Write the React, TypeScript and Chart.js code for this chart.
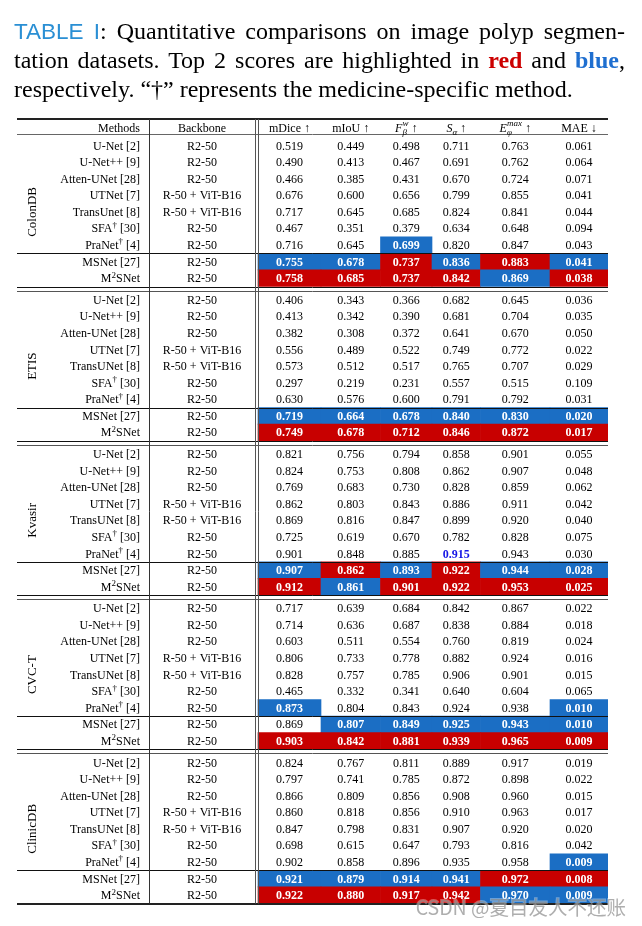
import React, { useEffect, useRef } from "react";
import { Chart, registerables } from "chart.js";

Chart.register(...registerables);

// ---------------- data ----------------
const datasetNames = ["ColonDB", "ETIS", "Kvasir", "CVC-T", "ClinicDB"];

const methods = [
  "U-Net [2]",
  "U-Net++ [9]",
  "Atten-UNet [28]",
  "UTNet [7]",
  "TransUNet [8]",
  "SFA^† [30]",
  "PraNet^† [4]",
  "MSNet [27]",
  "M^2SNet",
];
// ColonDB block spells TransUnet differently in the source table
const colonDbMethods = [
  "U-Net [2]",
  "U-Net++ [9]",
  "Atten-UNet [28]",
  "UTNet [7]",
  "TransUnet [8]",
  "SFA^† [30]",
  "PraNet^† [4]",
  "MSNet [27]",
  "M^2SNet",
];

const backbones = [
  "R2-50",
  "R2-50",
  "R2-50",
  "R-50 + ViT-B16",
  "R-50 + ViT-B16",
  "R2-50",
  "R2-50",
  "R2-50",
  "R2-50",
];

const metricLabels = [
  { base: "mDice", italic: false, sub: "", sup: "", arrow: "↑" },
  { base: "mIoU", italic: false, sub: "", sup: "", arrow: "↑" },
  { base: "F", italic: true, sub: "β", sup: "w", arrow: "↑" },
  { base: "S", italic: true, sub: "α", sup: "", arrow: "↑" },
  { base: "E", italic: true, sub: "φ", sup: "max", arrow: "↑" },
  { base: "MAE", italic: false, sub: "", sup: "", arrow: "↓" },
];

const colonDbValues = [
  [0.519, 0.449, 0.498, 0.711, 0.763, 0.061],
  [0.49, 0.413, 0.467, 0.691, 0.762, 0.064],
  [0.466, 0.385, 0.431, 0.67, 0.724, 0.071],
  [0.676, 0.6, 0.656, 0.799, 0.855, 0.041],
  [0.717, 0.645, 0.685, 0.824, 0.841, 0.044],
  [0.467, 0.351, 0.379, 0.634, 0.648, 0.094],
  [0.716, 0.645, 0.699, 0.82, 0.847, 0.043],
  [0.755, 0.678, 0.737, 0.836, 0.883, 0.041],
  [0.758, 0.685, 0.737, 0.842, 0.869, 0.038],
];
const etisValues = [
  [0.406, 0.343, 0.366, 0.682, 0.645, 0.036],
  [0.413, 0.342, 0.39, 0.681, 0.704, 0.035],
  [0.382, 0.308, 0.372, 0.641, 0.67, 0.05],
  [0.556, 0.489, 0.522, 0.749, 0.772, 0.022],
  [0.573, 0.512, 0.517, 0.765, 0.707, 0.029],
  [0.297, 0.219, 0.231, 0.557, 0.515, 0.109],
  [0.63, 0.576, 0.6, 0.791, 0.792, 0.031],
  [0.719, 0.664, 0.678, 0.84, 0.83, 0.02],
  [0.749, 0.678, 0.712, 0.846, 0.872, 0.017],
];
const kvasirValues = [
  [0.821, 0.756, 0.794, 0.858, 0.901, 0.055],
  [0.824, 0.753, 0.808, 0.862, 0.907, 0.048],
  [0.769, 0.683, 0.73, 0.828, 0.859, 0.062],
  [0.862, 0.803, 0.843, 0.886, 0.911, 0.042],
  [0.869, 0.816, 0.847, 0.899, 0.92, 0.04],
  [0.725, 0.619, 0.67, 0.782, 0.828, 0.075],
  [0.901, 0.848, 0.885, 0.915, 0.943, 0.03],
  [0.907, 0.862, 0.893, 0.922, 0.944, 0.028],
  [0.912, 0.861, 0.901, 0.922, 0.953, 0.025],
];
const cvcTValues = [
  [0.717, 0.639, 0.684, 0.842, 0.867, 0.022],
  [0.714, 0.636, 0.687, 0.838, 0.884, 0.018],
  [0.603, 0.511, 0.554, 0.76, 0.819, 0.024],
  [0.806, 0.733, 0.778, 0.882, 0.924, 0.016],
  [0.828, 0.757, 0.785, 0.906, 0.901, 0.015],
  [0.465, 0.332, 0.341, 0.64, 0.604, 0.065],
  [0.873, 0.804, 0.843, 0.924, 0.938, 0.01],
  [0.869, 0.807, 0.849, 0.925, 0.943, 0.01],
  [0.903, 0.842, 0.881, 0.939, 0.965, 0.009],
];
const clinicDbValues = [
  [0.824, 0.767, 0.811, 0.889, 0.917, 0.019],
  [0.797, 0.741, 0.785, 0.872, 0.898, 0.022],
  [0.866, 0.809, 0.856, 0.908, 0.96, 0.015],
  [0.86, 0.818, 0.856, 0.91, 0.963, 0.017],
  [0.847, 0.798, 0.831, 0.907, 0.92, 0.02],
  [0.698, 0.615, 0.647, 0.793, 0.816, 0.042],
  [0.902, 0.858, 0.896, 0.935, 0.958, 0.009],
  [0.921, 0.879, 0.914, 0.941, 0.972, 0.008],
  [0.922, 0.88, 0.917, 0.942, 0.97, 0.009],
];

// r = best (red), b = second (blue), t = blue bold text only, - = none
const colonDbRanks = ["------", "------", "------", "------", "------", "------", "--b---", "bbrbrb", "rrrrbr"];
const etisRanks = ["------", "------", "------", "------", "------", "------", "------", "bbbbbb", "rrrrrr"];
const kvasirRanks = ["------", "------", "------", "------", "------", "------", "---t--", "brbrbb", "rbrrrr"];
const cvcTRanks = ["------", "------", "------", "------", "------", "------", "b----b", "-bbbbb", "rrrrrr"];
const clinicDbRanks = ["------", "------", "------", "------", "------", "------", "-----b", "bbbbrr", "rrrrbb"];

const blockValues = [colonDbValues, etisValues, kvasirValues, cvcTValues, clinicDbValues];
const blockRanks = [colonDbRanks, etisRanks, kvasirRanks, cvcTRanks, clinicDbRanks];
const blockMethods = [colonDbMethods, methods, methods, methods, methods];

// ---------------- layout (table units) ----------------
const COL_EDGES = [0, 132, 241, 304, 363.5, 415, 463.5, 533, 591];
const HEADER_H = 1.1;
const GAP = 0.3;
const ROWS = 9;
const Y_MAX = HEADER_H + datasetNames.length * ROWS + (datasetNames.length - 1) * GAP;

const RED = "#c80000";
const BLUE = "#1b6ec4";
const SERIF = '"Liberation Serif", "Times New Roman", serif';

const rowTop = (b: number, r: number) => HEADER_H + b * (ROWS + GAP) + r;
const rowCenter = (b: number, r: number) => rowTop(b, r) + 0.5;

// highlighted cells as floating horizontal bars
const cellData: { x: [number, number]; y: number }[] = [];
const cellColors: string[] = [];
blockRanks.forEach((ranks, b) => {
  ranks.forEach((row, r) => {
    row.split("").forEach((ch, c) => {
      if (ch === "r" || ch === "b") {
        cellData.push({ x: [COL_EDGES[c + 2], COL_EDGES[c + 3]], y: rowCenter(b, r) });
        cellColors.push(ch === "r" ? RED : BLUE);
      }
    });
  });
});

type Part = { text: string; font: string; dy: number; stackWith?: Part };

function drawParts(ctx: CanvasRenderingContext2D, parts: Part[], x: number, y: number, align: "left" | "right" | "center", color: string) {
  ctx.save();
  ctx.textAlign = "left";
  ctx.textBaseline = "alphabetic";
  ctx.fillStyle = color;
  const widths = parts.map((p) => {
    ctx.font = p.font;
    let w = ctx.measureText(p.text).width;
    if (p.stackWith) {
      ctx.font = p.stackWith.font;
      w = Math.max(w, ctx.measureText(p.stackWith.text).width);
    }
    return w;
  });
  const total = widths.reduce((a, b) => a + b, 0);
  let cx = align === "left" ? x : align === "right" ? x - total : x - total / 2;
  parts.forEach((p, i) => {
    ctx.font = p.font;
    ctx.fillText(p.text, cx, y + p.dy);
    if (p.stackWith) {
      ctx.font = p.stackWith.font;
      ctx.fillText(p.stackWith.text, cx, y + p.stackWith.dy);
    }
    cx += widths[i];
  });
  ctx.restore();
}

function labelParts(label: string, size: number, bold = false): Part[] {
  const w = bold ? "bold " : "";
  const normal = `${w}${size}px ${SERIF}`;
  const small = `${w}${Math.round(size * 0.72)}px ${SERIF}`;
  const parts: Part[] = [];
  let buf = "";
  for (let i = 0; i < label.length; i++) {
    if (label[i] === "^" && i + 1 < label.length) {
      if (buf) parts.push({ text: buf, font: normal, dy: 0 });
      buf = "";
      parts.push({ text: label[i + 1], font: small, dy: -size * 0.38 });
      i++;
    } else buf += label[i];
  }
  if (buf) parts.push({ text: buf, font: normal, dy: 0 });
  return parts;
}

const tablePlugin = {
  id: "tableText",
  afterDatasetsDraw(chart: any) {
    const { ctx } = chart;
    const xs = chart.scales.x;
    const ys = chart.scales.y;
    const X = (u: number) => xs.getPixelForValue(u);
    const Y = (u: number) => ys.getPixelForValue(u);
    const crisp = (v: number) => Math.round(v) + 0.5;
    const left = X(COL_EDGES[0]);
    const right = X(COL_EDGES[COL_EDGES.length - 1]);

    const hline = (u: number, w: number, color: string) => {
      ctx.save();
      ctx.strokeStyle = color;
      ctx.lineWidth = w;
      const yy = w % 2 === 1 ? crisp(Y(u)) : Math.round(Y(u));
      ctx.beginPath();
      ctx.moveTo(left, yy);
      ctx.lineTo(right, yy);
      ctx.stroke();
      ctx.restore();
    };
    const vline = (u: number, w: number, color: string) => {
      ctx.save();
      ctx.strokeStyle = color;
      ctx.lineWidth = w;
      const xx = crisp(X(u));
      ctx.beginPath();
      ctx.moveTo(xx, Y(0));
      ctx.lineTo(xx, Y(Y_MAX));
      ctx.stroke();
      ctx.restore();
    };

    // rules
    hline(0, 2, "#222");
    hline(HEADER_H - 0.2, 1, "#666");
    datasetNames.forEach((_, b) => {
      hline(rowTop(b, 7), 1, "#111");
      if (b < datasetNames.length - 1) {
        hline(rowTop(b, ROWS), 1, "#111");
        hline(rowTop(b, ROWS) + 0.25, 1, "#555");
      } else {
        hline(rowTop(b, ROWS), 2, "#222");
      }
    });
    vline(COL_EDGES[1], 1, "#333");
    vline(COL_EDGES[2] - 3, 1, "#555");
    vline(COL_EDGES[2], 1, "#555");

    const fs = 12;
    const base = 4;
    const nf = `${fs}px ${SERIF}`;
    const methodRight = X(COL_EDGES[1] - 9);
    const backboneX = X((COL_EDGES[1] + COL_EDGES[2] - 3) / 2);
    const colCenter = (c: number) => X((COL_EDGES[c + 2] + COL_EDGES[c + 3]) / 2);

    // header
    const hy = Y(HEADER_H / 2 - 0.03) + base;
    drawParts(ctx, [{ text: "Methods", font: nf, dy: 0 }], methodRight, hy, "right", "#000");
    drawParts(ctx, [{ text: "Backbone", font: nf, dy: 0 }], backboneX, hy, "center", "#000");
    metricLabels.forEach((m, c) => {
      const parts: Part[] = [];
      parts.push({ text: m.base, font: m.italic ? `italic ${nf}` : nf, dy: 0 });
      if (m.sub || m.sup) {
        const sf = `italic 9px ${SERIF}`;
        const sub: Part = { text: m.sub, font: sf, dy: 3 };
        if (m.sup) sub.stackWith = { text: m.sup, font: sf, dy: -5.5 };
        parts.push(sub);
      }
      parts.push({ text: " " + m.arrow, font: nf, dy: 0 });
      drawParts(ctx, parts, colCenter(c), hy, "center", "#000");
    });

    // body
    datasetNames.forEach((name, b) => {
      // rotated dataset label
      ctx.save();
      ctx.translate(X(16), Y(rowCenter(b, 4)));
      ctx.rotate(-Math.PI / 2);
      ctx.font = `13px ${SERIF}`;
      ctx.fillStyle = "#000";
      ctx.textAlign = "center";
      ctx.textBaseline = "middle";
      ctx.fillText(name, 0, 0);
      ctx.restore();

      const vals = blockValues[b];
      const ranks = blockRanks[b];
      const names = blockMethods[b];
      for (let r = 0; r < ROWS; r++) {
        const yy = Y(rowCenter(b, r)) + base;
        drawParts(ctx, labelParts(names[r], fs), methodRight, yy, "right", "#000");
        drawParts(ctx, [{ text: backbones[r], font: nf, dy: 0 }], backboneX, yy, "center", "#000");
        vals[r].forEach((v, c) => {
          const rk = ranks[r][c];
          const bold = rk !== "-";
          const color = rk === "r" || rk === "b" ? "#fff" : rk === "t" ? "#1414e6" : "#000";
          drawParts(ctx, [{ text: v.toFixed(3), font: `${bold ? "bold " : ""}${nf}`, dy: 0 }], colCenter(c), yy, "center", color);
        });
      }
    });
  },
  afterDraw(chart: any) {
    const { ctx, chartArea } = chart;
    ctx.save();
    ctx.font = '19.5px "Noto Sans CJK SC", "Noto Sans", sans-serif';
    ctx.textAlign = "right";
    ctx.textBaseline = "middle";
    ctx.lineWidth = 2;
    ctx.strokeStyle = "rgba(255,255,255,0.35)";
    ctx.fillStyle = "rgba(140,140,140,0.7)";
    ctx.strokeText("CSDN @夏目友人不还账", chartArea.right + 18, chartArea.bottom + 4);
    ctx.fillText("CSDN @夏目友人不还账", chartArea.right + 18, chartArea.bottom + 4);
    ctx.restore();
  },
};

export default function App() {
  const ref = useRef<HTMLCanvasElement>(null);
  useEffect(() => {
    if (!ref.current) return;
    const chart = new Chart(ref.current, {
      type: "bar",
      data: {
        datasets: [
          {
            data: cellData as any,
            backgroundColor: cellColors,
            borderWidth: 0,
            barPercentage: 1,
            categoryPercentage: 1,
          },
        ],
      },
      options: {
        indexAxis: "y",
        animation: false,
        responsive: true,
        maintainAspectRatio: false,
        events: [],
        layout: { padding: { left: 17, right: 34, top: 119, bottom: 22.5 } },
        plugins: { legend: { display: false }, tooltip: { enabled: false }, title: { display: false } },
        scales: {
          x: { type: "linear", display: false, offset: false, min: 0, max: COL_EDGES[COL_EDGES.length - 1] },
          y: {
            type: "linear",
            display: false,
            offset: false,
            reverse: true,
            min: 0,
            max: Y_MAX,
            ticks: { stepSize: 100 },
            grid: { offset: false },
          },
        },
      },
      plugins: [tablePlugin],
    });
    return () => chart.destroy();
  }, []);

  return (
    <div style={{ position: "relative", width: 626, height: 910 }}>
      <div style={{ position: "absolute", left: -8, top: -8, width: 642, height: 926 }}>
        <canvas ref={ref} />
      </div>
      <div
        style={{
          position: "absolute",
          left: 6,
          top: 9,
          width: 611,
          fontFamily: SERIF,
          fontSize: 24,
          lineHeight: "29px",
          color: "#000",
        }}
      >
        <div style={{ textAlign: "justify", textAlignLast: "justify" }}>
          <span style={{ fontFamily: '"Liberation Sans", Arial, sans-serif', fontSize: 22.5, color: "#2a8fd4" }}>TABLE I</span>: Quantitative comparisons on image polyp segmen-
        </div>
        <div style={{ textAlign: "justify", textAlignLast: "justify" }}>
          tation datasets. Top 2 scores are highlighted in <b style={{ color: "#cc0000" }}>red</b> and{" "}
          <b style={{ color: "#1f6fd0" }}>blue</b>,
        </div>
        <div>respectively. “†” represents the medicine-specific method.</div>
      </div>
    </div>
  );
}
